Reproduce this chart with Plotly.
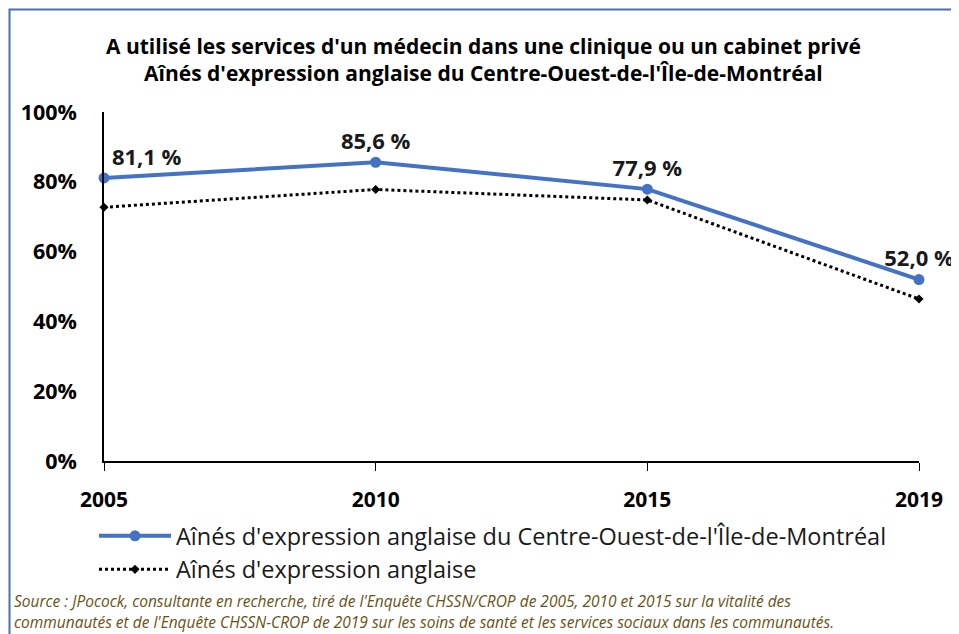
import plotly.graph_objects as go

years = ["2005", "2010", "2015", "2019"]
ouest_montreal = [81.1, 85.6, 77.9, 52.0]
anglophones = [72.7, 77.8, 74.8, 46.4]
label_positions = ["top right", "top center", "top center", "top center"]

name_ouest = "Aînés d'expression anglaise du Centre-Ouest-de-l'Île-de-Montréal"
name_angl = "Aînés d'expression anglaise"
title_lines = [
    "A utilisé les services d'un médecin dans une clinique ou un cabinet privé",
    "Aînés d'expression anglaise du Centre-Ouest-de-l'Île-de-Montréal",
]
source_lines = [
    "Source : JPocock, consultante en recherche, tiré de l'Enquête CHSSN/CROP de 2005, 2010 et 2015 sur la vitalité des",
    "communautés et de l'Enquête CHSSN-CROP de 2019 sur les soins de santé et les services sociaux dans les communautés.",
]

FONT = "'Open Sans', 'Noto Sans', Arial, sans-serif"
OFF = 8  # page body margin
W, H = 959 - OFF, 634 - OFF
L, R, T, B = 104 - OFF, W - (919 - OFF), 112 - OFF, H - (461 - OFF)
pw, ph = W - L - R, H - T - B


def px_x(p):
    return (p - OFF - L) / pw


def px_y(p):
    return (H - B - (p - OFF)) / ph


fig = go.Figure()
fig.add_trace(go.Scatter(
    x=years, y=ouest_montreal, name=name_ouest, mode="lines+markers+text",
    line=dict(color="#4472C4", width=4),
    marker=dict(color="#4472C4", size=11, symbol="circle"),
    texttemplate="%{y:.1f} %", textposition=label_positions, cliponaxis=False,
    textfont=dict(family=FONT, size=22, color="#1a1a1a", weight="bold"),
))
fig.add_trace(go.Scatter(
    x=years, y=anglophones, name=name_angl, mode="lines+markers",
    line=dict(color="black", width=3, dash="dot"),
    marker=dict(color="black", size=7, symbol="diamond"),
    cliponaxis=False,
))

fig.add_shape(type="rect", xref="paper", yref="paper",
              x0=px_x(9.5), x1=px_x(975), y0=px_y(650), y1=px_y(9.5),
              line=dict(color="#4a6fb0", width=2), fillcolor="rgba(0,0,0,0)", layer="below")

fig.add_annotation(text="<br>".join(title_lines), xref="paper", yref="paper",
                   x=px_x(483), y=px_y(59), xanchor="center", yanchor="middle", showarrow=False,
                   font=dict(family=FONT, size=21, color="black", weight="bold"))
for i, line in enumerate(source_lines):
    fig.add_annotation(text="<i>" + line + "</i>", xref="paper", yref="paper",
                       x=px_x(12), y=px_y(601 + 21 * i), xanchor="left", yanchor="middle",
                       showarrow=False, font=dict(family=FONT, size=15.5, color="#6b5214"))

fig.update_layout(
    width=W, height=H, margin=dict(l=L, r=R, t=T, b=B),
    paper_bgcolor="white", plot_bgcolor="white", separators=", ",
    showlegend=True,
    legend=dict(x=px_x(94), y=px_y(514), xanchor="left", yanchor="top",
                font=dict(family=FONT, size=23.5, color="#1a1a1a"),
                itemwidth=72, tracegroupgap=0, bgcolor="rgba(0,0,0,0)"),
    xaxis=dict(type="category", range=[0, 3], showline=True, linecolor="black", linewidth=1.5,
               ticks="outside", ticklen=8, tickcolor="black", showgrid=False, zeroline=False,
               ticklabelstandoff=11,
               tickfont=dict(family=FONT, size=21, color="black", weight="bold")),
    yaxis=dict(range=[0, 100], dtick=20, ticksuffix="%", showline=True, linecolor="black",
               linewidth=1.5, ticks="", showgrid=False, zeroline=False, ticklabelstandoff=21,
               tickfont=dict(family=FONT, size=21.5, color="black", weight="bold")),
)

fig.write_html("out.html")
